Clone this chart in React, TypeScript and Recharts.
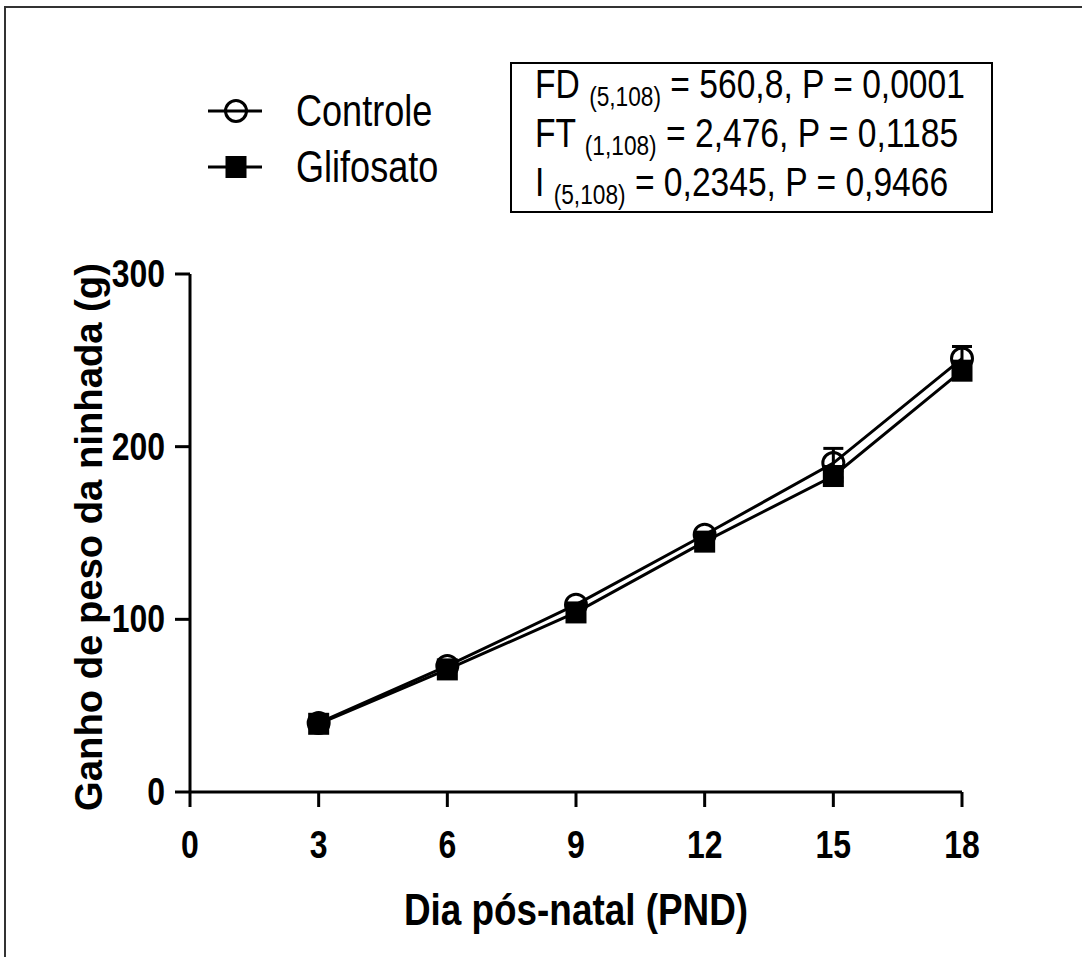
import React from 'react';
import { ComposedChart, Line, XAxis, YAxis, ErrorBar } from 'recharts';

// ---- data ----
const days = [3, 6, 9, 12, 15, 18];
const controle = [40, 73, 108.5, 149, 190.5, 251];
const controleErr = [0, 0, 0, 0, 8.5, 7];
const glifosato = [39.5, 71, 104, 145, 183, 244];
const glifosatoErr = [0.5, 1, 1.5, 2, 3, 3.5];
const xTicks = [0, 3, 6, 9, 12, 15, 18];
const yTicks = [0, 100, 200, 300];
const seriesNames = ['Controle', 'Glifosato'];
const statNames = ['FD', 'FT', 'I'];
const statDf = ['(5,108)', '(1,108)', '(5,108)'];
const statRest = [' = 560,8, P = 0,0001', ' = 2,476, P = 0,1185', ' = 0,2345, P = 0,9466'];
const xLabel = 'Dia pós-natal (PND)';
const yLabel = 'Ganho de peso da ninhada (g)';

const data = days.map((d, i) => ({
  day: d,
  controle: controle[i],
  controleErr: controleErr[i],
  glifosato: glifosato[i],
  glifosatoErr: glifosatoErr[i],
}));

const FONT = '"Liberation Sans", Arial, Helvetica, sans-serif';
const NARROW = 0.82;

const CircleDot = (props: any) => {
  const { cx, cy, index } = props;
  if (cx == null || cy == null) return <g key={`c-${index}`} />;
  return <circle key={`c-${index}`} cx={cx} cy={cy} r={10.5} fill="none" stroke="#000" strokeWidth={3} />;
};

const SquareDot = (props: any) => {
  const { cx, cy, index } = props;
  if (cx == null || cy == null) return <g key={`s-${index}`} />;
  return <rect key={`s-${index}`} x={cx - 10.5} y={cy - 11} width={21} height={22} fill="#000" />;
};

const XTick = (props: any) => {
  const { x, y, payload } = props;
  return (
    <text transform={`translate(${x} ${y + 28}) scale(${NARROW} 1)`} textAnchor="middle" dominantBaseline="central"
      fontFamily={FONT} fontWeight="bold" fontSize={39} fill="#000">{payload.value}</text>
  );
};

const YTick = (props: any) => {
  const { x, y, payload } = props;
  return (
    <text transform={`translate(${x} ${y}) scale(${NARROW} 1)`} textAnchor="end" dominantBaseline="central"
      fontFamily={FONT} fontWeight="bold" fontSize={39} fill="#000">{payload.value}</text>
  );
};

const YLabel = (props: any) => {
  const vb = props.viewBox || {};
  const x = vb.x - 2;
  const y = vb.y + vb.height / 2 + 4;
  return (
    <text transform={`translate(${x} ${y}) rotate(-90) scale(0.98 1)`} textAnchor="middle" dominantBaseline="central"
      fontFamily={FONT} fontWeight="bold" fontSize={39} fill="#000">{yLabel}</text>
  );
};

const XLabel = (props: any) => {
  const vb = props.viewBox || {};
  const x = vb.x + vb.width / 2;
  const y = vb.y + 118;
  return (
    <text transform={`translate(${x} ${y}) scale(${NARROW} 1)`} textAnchor="middle" dominantBaseline="central"
      fontFamily={FONT} fontWeight="bold" fontSize={45} fill="#000">{xLabel}</text>
  );
};

export default function App() {
  return (
    <div style={{ position: 'absolute', left: 0, top: 0, width: 1082, height: 957, background: '#fff' }}>
      <div style={{ position: 'absolute', left: 4, top: 6, width: 1078, height: 951, borderTop: '2px solid #333', borderLeft: '2px solid #333', boxSizing: 'border-box' }} />
      <ComposedChart width={1082} height={957} data={data}
        margin={{ top: 274, right: 120, bottom: 105, left: 90 }}
        style={{ position: 'absolute', left: 0, top: 0 }}>
        <XAxis type="number" dataKey="day" domain={[0, 18]} ticks={xTicks} interval={0}
          tickSize={15} tickMargin={10} height={60}
          axisLine={{ stroke: '#000', strokeWidth: 3 }} tickLine={{ stroke: '#000', strokeWidth: 3 }}
          tick={<XTick />} label={<XLabel />} />
        <YAxis type="number" domain={[0, 300]} ticks={yTicks} interval={0}
          tickSize={15} tickMargin={10} width={100}
          axisLine={{ stroke: '#000', strokeWidth: 3 }} tickLine={{ stroke: '#000', strokeWidth: 3 }}
          tick={<YTick />} label={<YLabel />} />
        <Line type="linear" dataKey="controle" name={seriesNames[0]} stroke="#000" strokeWidth={3}
          dot={CircleDot} activeDot={false} isAnimationActive={false}>
          <ErrorBar dataKey="controleErr" direction="y" width={10} stroke="#000" strokeWidth={3} />
        </Line>
        <Line type="linear" dataKey="glifosato" name={seriesNames[1]} stroke="#000" strokeWidth={3}
          dot={SquareDot} activeDot={false} isAnimationActive={false}>
          <ErrorBar dataKey="glifosatoErr" direction="y" width={10} stroke="#000" strokeWidth={3} />
        </Line>
      </ComposedChart>

      {/* legend */}
      <svg width={270} height={110} style={{ position: 'absolute', left: 200, top: 85 }}>
        <line x1={8} y1={26} x2={62} y2={26} stroke="#000" strokeWidth={3} />
        <circle cx={36} cy={26} r={10.5} fill="none" stroke="#000" strokeWidth={3} />
        <text transform={`translate(96 26) scale(${NARROW} 1)`} dominantBaseline="central" fontFamily={FONT} fontSize={44} fill="#000">{seriesNames[0]}</text>
        <line x1={8} y1={82} x2={62} y2={82} stroke="#000" strokeWidth={3} />
        <rect x={25.5} y={71} width={21} height={22} fill="#000" />
        <text transform={`translate(96 82) scale(${NARROW} 1)`} dominantBaseline="central" fontFamily={FONT} fontSize={44} fill="#000">{seriesNames[1]}</text>
      </svg>

      {/* statistics box */}
      <div style={{ position: 'absolute', left: 510, top: 62, width: 483, height: 151, boxSizing: 'border-box', border: '2px solid #000', fontFamily: FONT, fontSize: 40, color: '#000' }}>
        {statNames.map((n, i) => (
          <div key={n + i} style={{ position: 'absolute', left: 23, top: i * 49 - 4, lineHeight: '49px', whiteSpace: 'nowrap', transform: 'scaleX(0.84)', transformOrigin: 'left center' }}>
            {n} <span style={{ fontSize: 27, position: 'relative', top: 8 }}>{statDf[i]}</span>{statRest[i]}
          </div>
        ))}
      </div>
    </div>
  );
}
